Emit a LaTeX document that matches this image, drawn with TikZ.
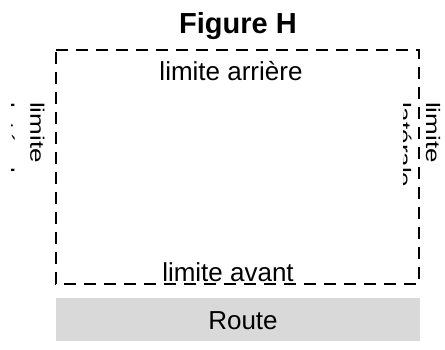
\documentclass[tikz,border=0pt]{standalone}
\usepackage{fontspec}
\setmainfont{Liberation Sans}
\definecolor{roadgray}{HTML}{D9D9D9}
\tikzset{
  bound/.style={line width=2.4pt, dash pattern=on 12pt off 8pt},
  lbl/.style={font=\fontsize{26}{30}\selectfont, inner sep=0pt},
  vlbl/.style={lbl, rotate=-90, anchor=base west},
  titlelbl/.style={font=\fontsize{29}{34}\selectfont\bfseries, inner sep=0pt, anchor=base},
}
\newcommand{\squash}[1]{\scalebox{1}[0.75]{#1}}
\begin{document}
\begin{tikzpicture}[x=1pt,y=-1pt]
\useasboundingbox (0,0) rectangle (445,350);
% title
\node[titlelbl] (title) at (238,34) {Figure H};
% lot boundary
\coordinate (tl) at (56,50);
\coordinate (tr) at (419,50);
\coordinate (br) at (419,284);
\coordinate (bl) at (56,284);
\draw[bound] (tl) -- (tr) -- (br) -- (bl) -- cycle;
% road
\fill[roadgray] (56,298) rectangle (420,341);
\node[lbl, anchor=base] (route) at (243,329) {Route};
% labels
\node[lbl, anchor=base] (rear) at (231,81) {limite arrière};
\node[lbl, anchor=base] (front) at (228,281) {limite avant};
% left side label
\node[vlbl] (left1) at (30.5,102) {\squash{limite}};
\begin{scope}
\clip (11,90) rectangle (25,200);
\node[vlbl] (left2) at (0.5,102) {\squash{latérale}};
\end{scope}
% right side label
\node[vlbl] (right1) at (426,102) {\squash{limite}};
\begin{scope}
\clip (403,90) rectangle (416,200);
\node[vlbl] (right2) at (397,102) {\squash{latérale}};
\end{scope}
\end{tikzpicture}
\end{document}
